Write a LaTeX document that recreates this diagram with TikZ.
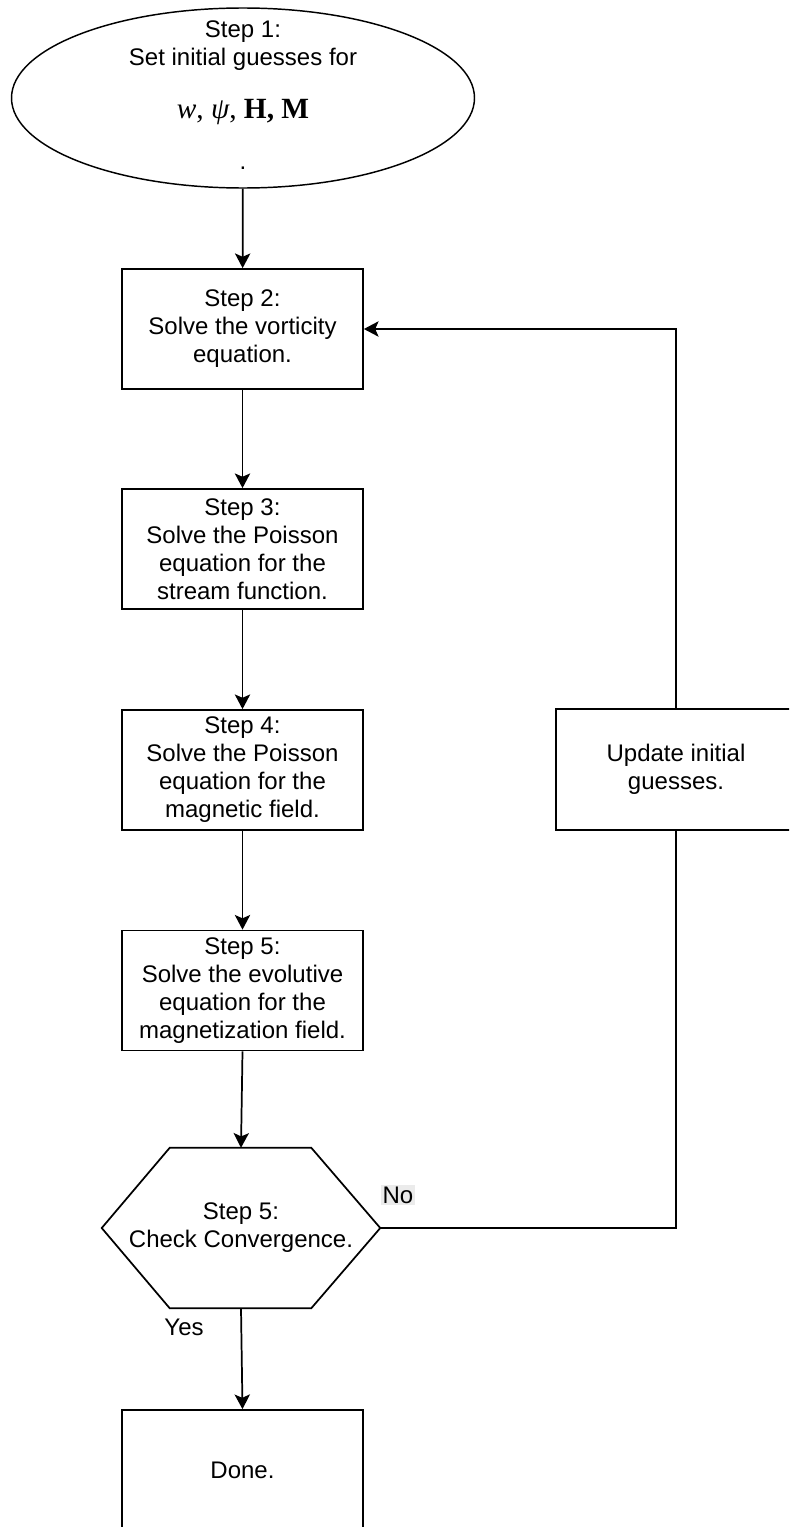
\documentclass[tikz,border=0pt]{standalone}
\usepackage{fontspec}
\setmainfont{Liberation Sans}
\newfontfamily\guessfont{Liberation Serif}
\usetikzlibrary{shapes.geometric,arrows.meta}

\tikzset{
  stepbox/.style={draw, rectangle, line width=1.3pt, minimum width=241*0.75pt,
    minimum height=120*0.75pt, inner sep=0pt, align=center,
    font=\fontsize{18}{21}\selectfont},
  flowarr/.style={line width=1.3pt, -{Stealth[length=11pt,width=11.5pt,inset=2.5pt]}},
  flowline/.style={line width=1.3pt},
  answer/.style={inner sep=1pt, font=\fontsize{18}{21}\selectfont}
}

\begin{document}
\begin{tikzpicture}[x=0.75pt,y=0.75pt,yscale=-1,xscale=1]
                \useasboundingbox (0,0) rectangle (789,1527);
                \clip (0,0) rectangle (789,1527);
                % start
                \node [ellipse, draw, line width=1.1pt, minimum width=463*0.75pt, minimum height=180*0.75pt, inner sep=0pt] (s1) at (243,98) {};
                \node [align=center, inner sep=0pt, font=\fontsize{18}{21}\selectfont] (s1txt) at (243,95) {Step 1:\\Set initial guesses for\\[19pt]{\guessfont\fontsize{22}{25}\selectfont\itshape w\upshape, \itshape ψ\upshape, \bfseries H, M}\\[17.5pt].};
                % steps
                \node [stepbox] (s2) at (242.5,329) {Step 2:\\Solve the vorticity\\equation.};
                \node [stepbox] (s3) at (242.5,549) {Step 3:\\Solve the Poisson\\equation for the\\stream function.};
                \node [stepbox] (s4) at (242.5,770) {Step 4:\\Solve the Poisson\\equation for the\\magnetic field.};
                \node [stepbox] (s5) at (242.5,990.5) {Step 5:\\Solve the evolutive\\equation for the\\magnetization field.};
                % check
                \node [minimum width=278*0.75pt, minimum height=160*0.75pt, inner sep=0pt, align=center, font=\fontsize{18}{21}\selectfont] (chk) at (241,1228) {Step 5:\\Check Convergence.};
                \draw [flowline, line join=miter] (chk.west) -- ([xshift=68*0.75pt]chk.north west) -- ([xshift=-69*0.75pt]chk.north east) -- (chk.east) -- ([xshift=-69*0.75pt]chk.south east) -- ([xshift=68*0.75pt]chk.south west) -- cycle;
                \node [stepbox] (done) at (242.5,1470) {Done.};
                \node [stepbox, minimum width=240*0.75pt, minimum height=121*0.75pt] (upd) at (676,769.5) {Update initial\\guesses.};
                % connectors
                \draw [flowarr] (s1) -- (s2);
                \draw [flowarr] (s2) -- (s3);
                \draw [flowarr] (s3) -- (s4);
                \draw [flowarr] (s4) -- (s5);
                \draw [flowarr] (s5.south) -- (chk.north);
                \draw [flowarr] (chk.south) -- (done.north);
                \draw [flowline] (chk.east) -| (upd.south);
                \draw [flowarr] (upd.north) |- (s2.east);
                \node [answer, fill=black!8] (no) at (398,1195) {No};
                \node [answer] (yes) at (184,1327) {Yes};
            \end{tikzpicture}
\end{document}
